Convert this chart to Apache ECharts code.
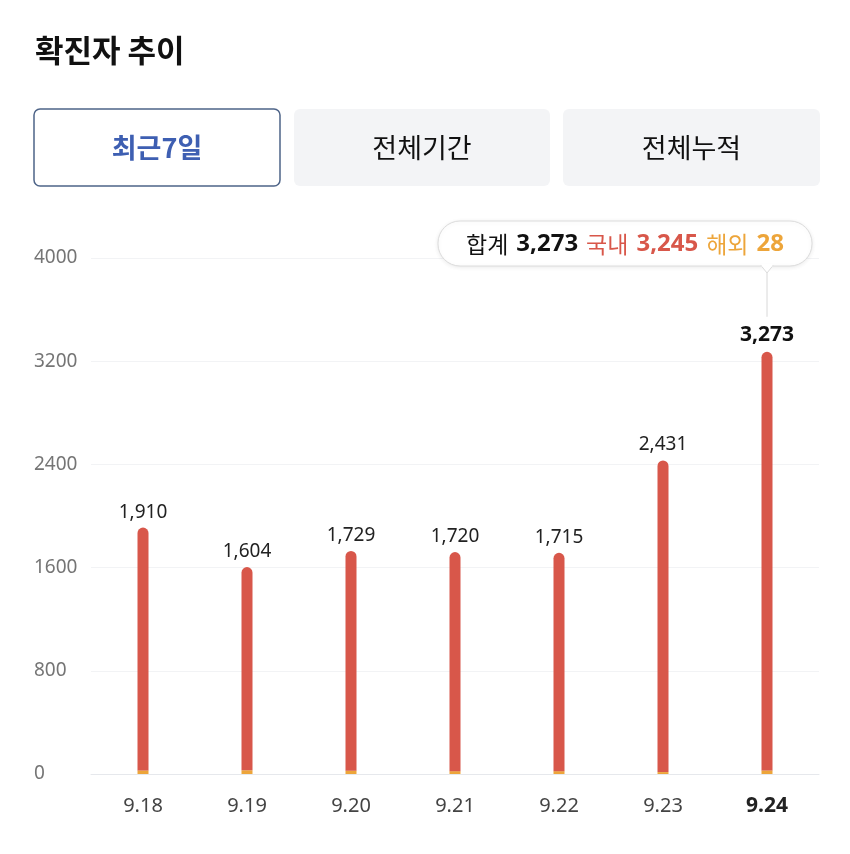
<!DOCTYPE html>
<html><head><meta charset="utf-8">
<script src="https://cdn.jsdelivr.net/npm/echarts@6/dist/echarts.min.js"></script>
<style>html,body{margin:0;padding:0;background:#fff}#c{width:850px;height:854px}</style>
</head><body><div id="c"></div>
<script>
const categories = ['9.18','9.19','9.20','9.21','9.22','9.23','9.24'];
const domestic = [1882, 1575, 1703, 1698, 1693, 2416, 3245];
const overseas = [28, 29, 26, 22, 22, 15, 28];
const totals = [1910, 1604, 1729, 1720, 1715, 2431, 3273];
const yTicks = [0, 800, 1600, 2400, 3200, 4000];
const buttons = ['최근7일', '전체기간', '전체누적'];
const title = '확진자 추이';

const FONT = '"Noto Sans", "Noto Sans CJK KR", sans-serif';
const KFONT = '"Noto Sans CJK KR", "Noto Sans", sans-serif';
const RED = '#d8574a', ORANGE = '#eda53a';
const fmt = v => v.toLocaleString('en-US');
const last = categories.length - 1;

const chart = echarts.init(document.getElementById('c'));
const option = {
  backgroundColor: '#fff',
  animation: false,
  grid: { left: 91, right: 31, top: 258, bottom: 80 },
  xAxis: {
    type: 'category', data: categories,
    axisLine: { show: true, lineStyle: { color: '#e6e8ec', width: 1 } },
    axisTick: { show: false },
    axisLabel: {
      margin: 22, fontSize: 20, color: '#444', fontFamily: FONT,
      formatter: (v, i) => i === last ? '{b|' + v + '}' : v,
      rich: { b: { fontSize: 21, fontWeight: 'bold', color: '#222', fontFamily: FONT } }
    }
  },
  yAxis: {
    type: 'value', min: yTicks[0], max: yTicks[yTicks.length - 1], interval: 800,
    axisLine: { show: false }, axisTick: { show: false },
    splitLine: { lineStyle: { color: '#f2f3f5', width: 1 } },
    axisLabel: { align: 'left', margin: 57, fontSize: 19, color: '#757575', fontFamily: FONT,
      formatter: v => String(v) }
  },
  series: [
    { name: '해외', type: 'bar', stack: 't', barWidth: 11, data: overseas,
      itemStyle: { color: ORANGE } },
    { name: '국내', type: 'bar', stack: 't', barWidth: 11, data: domestic,
      itemStyle: { color: RED, borderRadius: [6, 6, 0, 0] },
      label: {
        show: true, position: 'top', distance: 6, fontSize: 19, color: '#222', fontFamily: FONT,
        formatter: p => p.dataIndex === last ? '{b|' + fmt(totals[p.dataIndex]) + '}' : fmt(totals[p.dataIndex]),
        rich: { b: { fontSize: 21, fontWeight: 'bold', color: '#111', fontFamily: FONT } }
      }
    }
  ]
};
chart.setOption(option);

// header graphics
const g = [];
g.push({ type: 'text', left: 35, top: 35, style: { text: title, fontSize: 31, fontWeight: 'bold', fill: '#111', fontFamily: KFONT } });
const bx = [34, 294, 563], bw = [246, 256, 257];
buttons.forEach((t, i) => {
  const active = i === 0;
  g.push({ type: 'rect', shape: { x: bx[i], y: 109, width: bw[i], height: 77, r: 6 },
    style: { fill: active ? '#fff' : '#f3f4f6', stroke: active ? '#4e6488' : null, lineWidth: active ? 1.5 : 0 } });
  g.push({ type: 'text', x: bx[i] + bw[i] / 2, y: 148,
    style: { text: t, fontSize: 27, fontWeight: active ? 'bold' : 'normal', fill: active ? '#3e5fb2' : '#111',
      fontFamily: KFONT, align: 'center', verticalAlign: 'middle' } });
});

// tooltip bubble anchored to last bar
const p = chart.convertToPixel({ xAxisIndex: 0, yAxisIndex: 0 }, [last, totals[last]]);
const px = p[0];
const bubR = Math.min(px + 45, 812), bubW = 374, bubT = 221, bubH = 45;
const bubL = bubR - bubW;
g.push({ type: 'rect', shape: { x: bubL, y: bubT, width: bubW, height: bubH, r: 22 },
  style: { fill: '#fff', stroke: '#dcdcdc', lineWidth: 1, shadowBlur: 4, shadowColor: 'rgba(0,0,0,0.08)', shadowOffsetY: 1 } });
g.push({ type: 'polygon', shape: { points: [[px - 6, bubT + bubH - 0.5], [px, bubT + bubH + 7], [px + 6, bubT + bubH - 0.5]] },
  style: { fill: '#fff', stroke: '#dcdcdc', lineWidth: 1 } });
g.push({ type: 'rect', shape: { x: px - 5.5, y: bubT + bubH - 2, width: 11, height: 2.5 }, style: { fill: '#fff' } });
g.push({ type: 'line', shape: { x1: px, y1: bubT + bubH + 7, x2: px, y2: p[1] - 35 }, style: { stroke: '#d8d8d8', lineWidth: 1 } });
g.push({ type: 'text', x: bubL + bubW / 2, y: bubT + bubH / 2 + 1,
  style: {
    text: '{a|합계}{ab|' + fmt(totals[last]) + '}{r|국내}{rb|' + fmt(domestic[last]) + '}{o|해외}{ob|' + fmt(overseas[last]) + '}',
    align: 'center', verticalAlign: 'middle',
    rich: {
      a: { fontSize: 23, fill: '#111', fontFamily: KFONT, padding: [0, 8, 0, 0] },
      ab: { fontSize: 24, fontWeight: 'bold', fill: '#111', fontFamily: FONT, padding: [0, 8, 0, 0] },
      r: { fontSize: 23, fill: RED, fontFamily: KFONT, padding: [0, 8, 0, 0] },
      rb: { fontSize: 24, fontWeight: 'bold', fill: RED, fontFamily: FONT, padding: [0, 8, 0, 0] },
      o: { fontSize: 23, fill: ORANGE, fontFamily: KFONT, padding: [0, 8, 0, 0] },
      ob: { fontSize: 24, fontWeight: 'bold', fill: ORANGE, fontFamily: FONT }
    }
  } });
chart.setOption({ graphic: g });
</script></body></html>
